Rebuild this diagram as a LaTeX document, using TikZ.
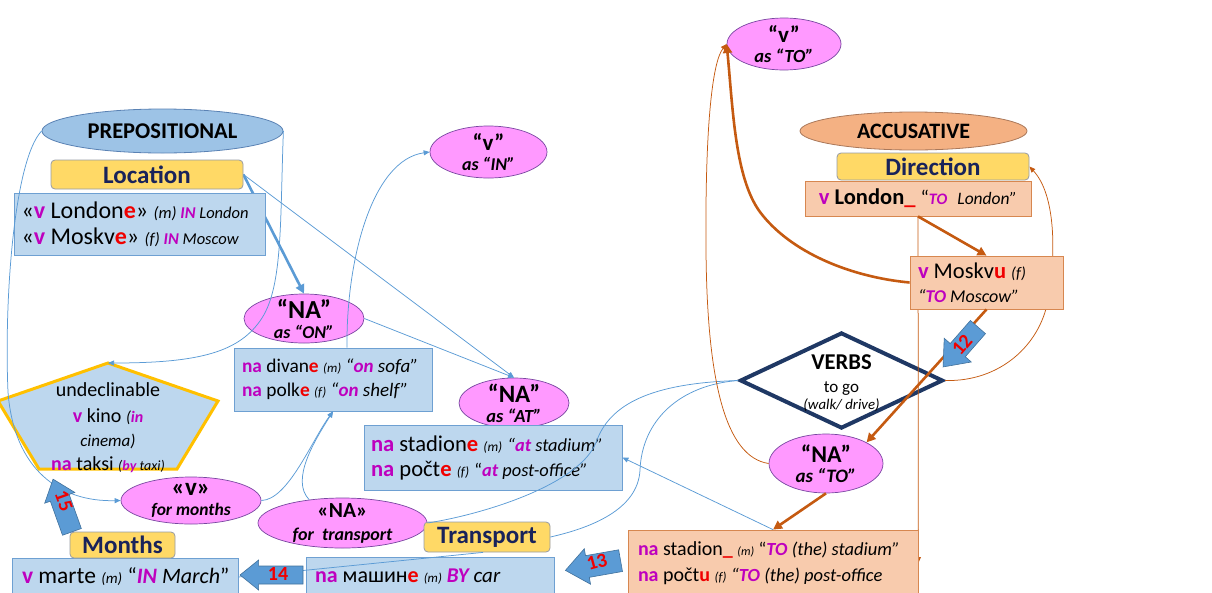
\documentclass[tikz,border=0pt]{standalone}
\usepackage{fontspec}
\setmainfont{Carlito}
\usetikzlibrary{shapes.geometric,arrows.meta,calc}
\pgfdeclarelayer{bg}
\pgfdeclarelayer{mid}
\pgfsetlayers{bg,mid,main}

\definecolor{lblue}{RGB}{189,215,238}
\definecolor{bblue}{RGB}{110,160,210}
\definecolor{cblue}{RGB}{91,155,213}
\definecolor{pinkf}{RGB}{255,153,255}
\definecolor{pinkb}{RGB}{120,70,160}
\definecolor{yelf}{RGB}{255,217,102}
\definecolor{yelb}{RGB}{150,155,165}
\definecolor{navy}{RGB}{31,56,100}
\definecolor{ttlc}{RGB}{25,35,90}
\definecolor{prepf}{RGB}{157,195,230}
\definecolor{prepb}{RGB}{90,130,180}
\definecolor{accf}{RGB}{244,177,131}
\definecolor{accb}{RGB}{170,120,90}
\definecolor{peachf}{RGB}{248,203,173}
\definecolor{peachb}{RGB}{215,135,80}
\definecolor{org}{RGB}{197,90,17}
\definecolor{mag}{RGB}{190,0,190}
\definecolor{gold}{RGB}{255,192,0}
\definecolor{arrf}{RGB}{91,155,213}
\definecolor{arrb}{RGB}{65,113,156}
\definecolor{redt}{RGB}{240,0,0}

\newcommand\fsz[2]{\fontsize{#1}{#2}\selectfont}
\newcommand\mg[1]{\textcolor{mag}{\bfseries #1}}
\newcommand\mgi[1]{\textcolor{mag}{\bfseries\itshape #1}}
\newcommand\rd[1]{\textcolor{redt}{\bfseries #1}}

% block arrow: centre x, centre y, angle, length, shaft width, head width
\newcommand\blockarr[6]{%
  \begin{scope}[shift={(#1,#2)},rotate=#3]
    \filldraw[fill=arrf,draw=arrb,line width=0.6pt,line join=miter]
      ({-#4/2},{-#5/2}) -- ({#4/2-0.62*#6},{-#5/2}) -- ({#4/2-0.62*#6},{-#6/2})
      -- ({#4/2},0) -- ({#4/2-0.62*#6},{#6/2}) -- ({#4/2-0.62*#6},{#5/2})
      -- ({-#4/2},{#5/2}) -- cycle;
  \end{scope}}

\begin{document}
\begin{tikzpicture}[x=1pt,y=-1pt,
  ell/.style={ellipse,draw=pinkb,fill=pinkf,line width=0.7pt,inner sep=0pt},
  etxt/.style={align=center,inner sep=0pt,font=\fsz{#1}{20}\bfseries\itshape},
  exbox/.style={rectangle,draw=bblue,fill=lblue,line width=0.8pt,inner xsep=8pt,inner ysep=0pt,align=flush left},
  pebox/.style={rectangle,draw=peachb,fill=peachf,line width=0.8pt,inner xsep=9pt,inner ysep=0pt,align=flush left},
  ttl/.style={rectangle,rounded corners=4pt,draw=yelb,fill=yelf,line width=0.8pt,inner sep=0pt,font=\fsz{25}{25}\bfseries,text=ttlc},
  bc/.style={draw=cblue,line width=0.75pt,-{Triangle[length=6pt,width=5pt]}},
  bk/.style={draw=cblue,line width=2.6pt,-{Triangle[length=9pt,width=9pt]}},
  oc/.style={draw=org,line width=2.6pt,-{Triangle[length=9pt,width=9pt]}},
  ot/.style={draw=org,line width=0.75pt,-{Triangle[length=6pt,width=5pt]}},
  num/.style={text=redt,font=\fsz{20}{20}\bfseries,inner sep=0pt}
]
\useasboundingbox (0,0) rectangle (1212,592);

% ---------- prepositional side ----------
\node[ellipse,draw=prepb,fill=prepf,line width=0.8pt,minimum width=241pt,minimum height=44pt,inner sep=0pt,font=\fsz{22.5}{22.5}\bfseries] (prep) at (162.5,131) {PREPOSITIONAL};
\node[ttl,minimum width=192pt,minimum height=29pt] (loc) at (147,174.5) {Location};
\node[exbox,minimum height=62pt,text width=236pt,inner xsep=7.5pt,font=\fsz{24}{26}] (locex) at (139.5,224)
  {\mbox{«\mg{v} London\rd{e}» {\fsz{16.5}{16.5}\itshape (m) \mgi{IN} London}}\\
   \mbox{«\mg{v} Moskv\rd{e}» {\fsz{16.5}{16.5}\itshape (f) \mgi{IN} Moscow}}};

\node[ell,minimum width=117pt,minimum height=52pt,
  label={[etxt=18]center:{{\fsz{23}{23}\upshape “v”}\\as “IN”}}] (vin) at (488.5,152) {};
\node[ell,minimum width=120pt,minimum height=49pt,
  label={[etxt=18]center:{{\fsz{26}{26}\upshape “NA”}\\as “ON”}}] (naon) at (304,318.5) {};
\node[exbox,minimum height=63pt,text width=182pt,inner xsep=8pt,font=\fsz{19.4}{24}] (divane) at (333,379.5)
  {\mbox{\mg{na} divan\rd{e} {\fsz{13}{13}\itshape (m)} {\fsz{19}{19}\itshape “\mgi{on} sofa”}}\\
   \mbox{\mg{na} polk\rd{e} {\fsz{13}{13}\itshape (f)} {\fsz{19}{19}\itshape “\mgi{on} shelf”}}};
\node[ell,minimum width=110pt,minimum height=50pt,
  label={[etxt=18.5]center:{{\fsz{25}{25}\upshape “NA”}\\as “AT”}}] (naat) at (514,403) {};
\node[exbox,minimum height=65pt,text width=244pt,inner xsep=7pt,font=\fsz{22.6}{25}] (stadione) at (493,457.5)
  {\mbox{\mg{na} stadion\rd{e} {\fsz{13.5}{13.5}\itshape (m)} {\fsz{18.4}{18.4}\itshape “\mgi{at} stadium”}}\\
   \mbox{\mg{na} počt\rd{e} {\fsz{13.5}{13.5}\itshape (f)} {\fsz{18.4}{18.4}“\itshape\mgi{at} post-office”}}};

% undeclinable pentagon
\coordinate (ptop) at (108,363);
\filldraw[fill=lblue,draw=gold,line width=3pt] (ptop) -- (218,401) -- (177,469) -- (39,469) -- (-2,401) -- cycle;
\node[align=center,inner sep=0pt,font=\fsz{20}{24}] (pent) at (108,428)
  {undeclinable\\[2pt]
   \mg{v} kino {\fsz{16}{16}\itshape(\mgi{in}}\\
   {\fsz{17}{17}\itshape cinema)}\\
   \mg{na} taksi {\fsz{14}{14}\itshape(\mgi{by} taxi)}};

\node[ell,minimum width=140pt,minimum height=47pt,
  label={[etxt=17.5]center:{{\fsz{25}{25}\upshape «v»}\\for months}}] (vmonths) at (191,500.5) {};
\node[ell,minimum width=169pt,minimum height=50pt,
  label={[etxt=18,font=\fsz{18}{23}\bfseries\itshape]center:{{\fsz{21.5}{21.5}\upshape «NA»}\\for\ \ transport}}] (natrans) at (342.5,523) {};
\node[ttl,minimum width=126pt,minimum height=30pt] (transport) at (487,537) {Transport};
\node[exbox,minimum height=39pt,text width=230pt,inner xsep=9pt,font=\fsz{22}{22}] (mashine) at (430,576.5)
  {\mbox{\mg{na} машин\rd{e} {\fsz{13}{13}\itshape (m)} {\fsz{21}{21}\itshape\mgi{BY} car}}};
\node[exbox,minimum height=38pt,text width=206pt,inner xsep=10pt,font=\fsz{23.5}{23.5}] (marte) at (125,577)
  {\mbox{\mg{v} marte {\fsz{15}{15}\itshape (m)} {\fsz{22}{22}“\mgi{IN} {\itshape March}”}}};
\node[ttl,minimum width=105pt,minimum height=26pt] (months) at (122.5,545) {Months};

% ---------- accusative side ----------
\node[ell,minimum width=114pt,minimum height=52pt,
  label={[etxt=18.5]center:{{\fsz{23}{23}\upshape “v”}\\as “TO”}}] (vto) at (784,44) {};
\node[ellipse,draw=accb,fill=accf,line width=0.8pt,minimum width=227pt,minimum height=38pt,inner sep=0pt,font=\fsz{22}{22}\bfseries] (acc) at (913.5,131) {ACCUSATIVE};
\node[ttl,minimum width=192pt,minimum height=27pt] (direction) at (933,166.5) {Direction};
\node[pebox,minimum width=226pt,minimum height=35pt,align=center,inner xsep=0pt,font=\fsz{22.5}{22.5}\bfseries] (london) at (918,198.5)
  {\mg{v} London\rd{\_} {\mdseries\fsz{20}{20}“}{\fsz{16}{16}\mgi{TO}}\ \ {\mdseries\fsz{17.5}{17.5}\itshape London”}};

\begin{pgfonlayer}{bg}
\node[diamond,draw=navy,fill=white,line width=4pt,minimum width=203pt,minimum height=96pt,inner sep=0pt,
  label={[align=center,inner sep=0pt,font=\fsz{17}{17},yshift=-3pt]center:{{\fsz{22.6}{22.6}\bfseries VERBS}\\[6pt]to go\\{\fsz{14.8}{14.8}\itshape (walk/ drive)}}}] (verbs) at (841.5,380.5) {};
\end{pgfonlayer}

\node[pebox,minimum height=53pt,text width=137pt,inner xsep=8pt,font=\fsz{22.5}{24}] (moskvu) at (986.5,282.5)
  {\mbox{\mg{v} Moskv\rd{u} {\fsz{16}{16}\itshape (f)}}\\
   \mbox{\fsz{18}{18}\itshape “\mgi{TO} Moscow”}};
\node[ell,minimum width=114pt,minimum height=59pt,
  label={[etxt=19]center:{{\fsz{24}{24}\upshape “NA”}\\as “TO”}}] (nato) at (826,463.5) {};
\node[pebox,minimum height=66pt,text width=270pt,inner xsep=10pt,font=\fsz{20}{26}] (stadto) at (773,563)
  {\mbox{\mg{na} stadion\rd{\_} {\fsz{12}{12}\itshape (m)} {\fsz{18.5}{18.5}“\itshape\mgi{TO} (the) stadium”}}\\
   \mbox{\mg{na} počt\rd{u} {\fsz{13}{13}\itshape (f)} {\fsz{18.5}{18.5}\itshape “\mgi{TO} (the) post-office}}};

% ---------- connectors hidden behind boxes ----------
\begin{pgfonlayer}{bg}
\draw[bk] (loc.east) -- (naon.north);
\draw[ot] (verbs.east) .. controls (1000,382) and (1040,345) .. (1048,300)
  .. controls (1056,255) and (1056,195) .. (direction.east);
\end{pgfonlayer}
\begin{pgfonlayer}{mid}
\draw[ot] (london.south) -- (stadto.east);
\end{pgfonlayer}

% ---------- blue connectors ----------
\draw[bc] (loc.east) -- (naat.north);
\draw[bc] (naon.east) -- (naat.north);
\draw[bc] (prep.west) .. controls (14,160) and (4,300) .. (8,392)
  .. controls (14,470) and (60,502) .. (vmonths.west);
\draw[bc] (prep.east) .. controls (280,220) and (283,285) .. (262,318)
  .. controls (240,352) and (200,363) .. (ptop);
\draw[bc] ([xshift=14pt]divane.north) .. controls (346,260) and (372,160) .. (vin.west);
\draw[bc] (vmonths.east) .. controls (288,500) and (312,440) .. (divane.south);
\draw[bc] (natrans.145) .. controls (290,480) and (315,440) .. (divane.south);
\draw[bc,-] (verbs.west) .. controls (660,383) and (612,400) .. (597,440)
  .. controls (582,485) and (480,515) .. (natrans.east);
\draw[bc,-] (verbs.west) .. controls (680,385) and (642,420) .. (640,470)
  .. controls (638,510) and (590,528) .. (transport.east);
\draw[bc] (stadto.north) -- (stadione.east);
\draw[bc,-] ([xshift=-4pt]transport.south) -- (marte.east);

% ---------- orange connectors ----------
\draw[oc] (london.south) -- (moskvu.north);
\draw[oc] (moskvu.west) .. controls (850,277) and (790,252) .. (760,212)
  .. controls (735,178) and (733,110) .. (vto.west);
\draw[ot] (nato.west) .. controls (725,457) and (707,380) .. (706,250)
  .. controls (705,130) and (712,62) .. (vto.west);
\draw[oc] (moskvu.south) -- (nato.north east);
\draw[oc] (nato.south) -- (stadto.north);

% ---------- numbered block arrows ----------
\blockarr{960.5}{347}{228.8}{53}{20}{36}
\node[num,rotate=49] (n12) at (962,345) {12};
\blockarr{593}{565.5}{190}{56}{22}{36}
\node[num,rotate=15] (n13) at (597,562) {13};
\blockarr{271.5}{575}{180}{63}{18}{30}
\node[num] (n14) at (278,574) {14};
\blockarr{62.5}{505.5}{109.7}{56}{20}{32}
\node[num,rotate=-70] (n15) at (64,501) {15};
\end{tikzpicture}
\end{document}
